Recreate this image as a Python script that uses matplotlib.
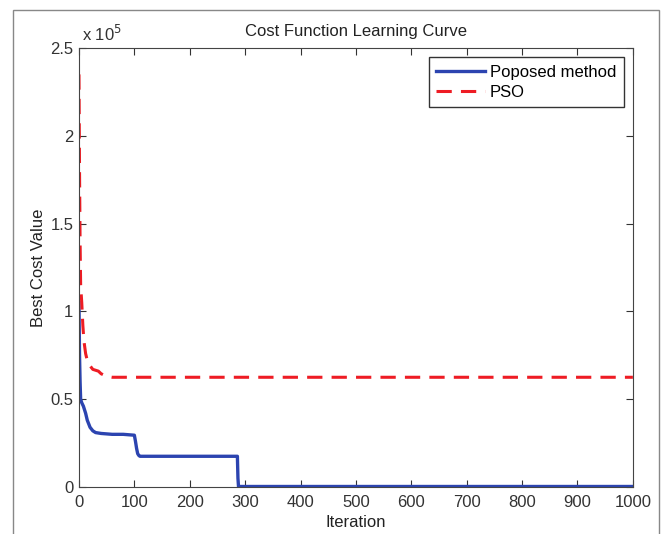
import matplotlib
matplotlib.use('Agg')
import matplotlib.pyplot as plt
from matplotlib.patches import Rectangle
from matplotlib.ticker import FuncFormatter

plt.rcParams['font.family'] = ['Liberation Sans', 'DejaVu Sans']

# proposed method best cost per iteration
prop_iter = [0, 1, 2, 3, 5, 8, 12, 15, 20, 25, 30, 40, 60, 80, 100, 102, 104, 106, 108, 110, 200, 286, 287, 288, 1000]
prop_cost = [105000, 75000, 60000, 50000, 48000, 46000, 42000, 38000, 34000, 32000, 31000, 30500, 30000, 30000, 29500,
             26000, 22000, 19000, 18000, 17500, 17500, 17500, 5000, 300, 300]

# PSO best cost per iteration
pso_iter = [0, 1, 2, 3, 5, 7, 9, 12, 15, 20, 25, 30, 35, 40, 50, 60, 1000]
pso_cost = [235000, 180000, 140000, 115000, 105000, 92000, 83000, 76000, 72000, 69000, 67000, 66500, 66000, 64500,
            63000, 62500, 62500]

x_ticks = list(range(0, 1001, 100))
y_ticks = [0, 50000, 100000, 150000, 200000, 250000]

fig = plt.figure(figsize=(6.62, 5.34), dpi=100)
ax = fig.add_axes([0.1193, 0.088, 0.8367, 0.822])

ax.plot(prop_iter, prop_cost, color='#2c44b0', lw=2.4, label='Poposed method')
ax.plot(pso_iter, pso_cost, color='#ee1c24', lw=2.2, ls=(0, (5, 3)), label='PSO')

ax.set_xlim(0, 1000)
ax.set_ylim(0, 250000)
ax.set_xticks(x_ticks)
ax.set_yticks(y_ticks)
ax.yaxis.set_major_formatter(FuncFormatter(lambda v, p: '%g' % (v / 1e5)))
ax.tick_params(direction='in', top=True, right=True, length=5, labelsize=12, colors='#333333')
ax.tick_params(axis='x', pad=6)
ax.tick_params(axis='y', pad=4)
for s in ax.spines.values():
    s.set_color('#444444')

ax.text(0.005, 1.01, r'x 10$^5$', transform=ax.transAxes, fontsize=12, color='#333333', ha='left', va='bottom')
ax.set_title('Cost Function Learning Curve', fontsize=12, color='#222222', pad=9)
ax.set_xlabel('Iteration', fontsize=12, color='#222222', labelpad=3)
ax.set_ylabel('Best Cost Value', fontsize=12, color='#222222', labelpad=3)

leg = ax.legend(loc='upper right', fontsize=12, fancybox=False, framealpha=1, edgecolor='#333333',
                handlelength=2.9, borderpad=0.45, labelspacing=0.3, handletextpad=0.3, borderaxespad=0.55)
leg.get_frame().set_linewidth(1)

# outer frame around the figure (bottom edge cut off)
fig.patches.append(Rectangle((13 / 662, -0.05), 646 / 662, 1.05 - 10 / 534, transform=fig.transFigure,
                             fill=False, edgecolor='#888888', lw=1))

fig.savefig('out.png', dpi=100)
